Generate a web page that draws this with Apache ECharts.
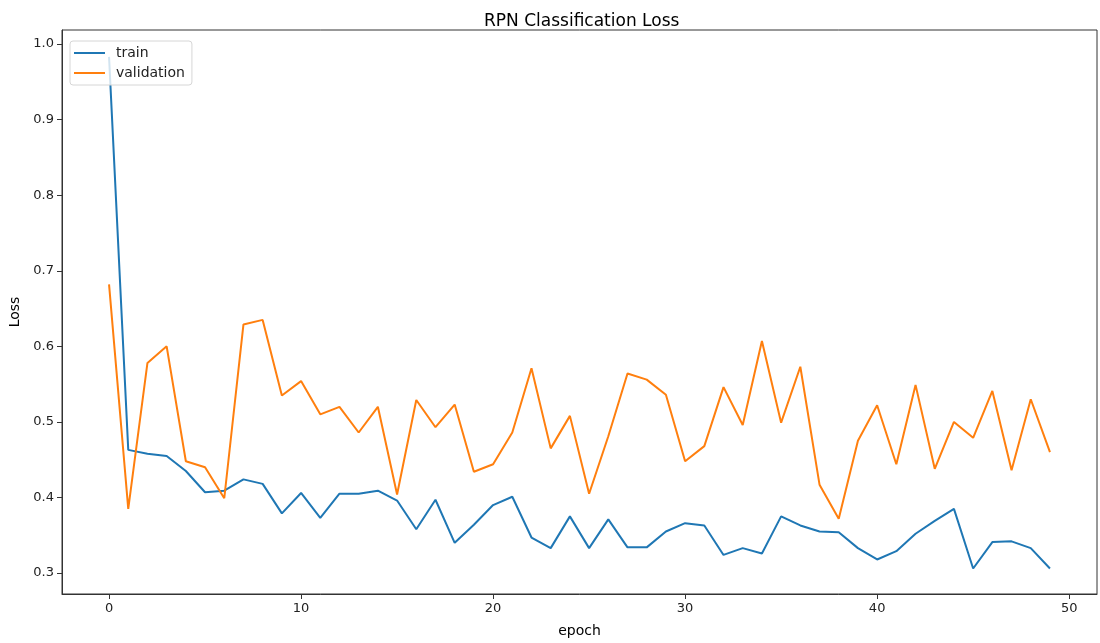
<!DOCTYPE html>
<html>
<head>
<meta charset="utf-8">
<script src="https://cdn.jsdelivr.net/npm/echarts@6/dist/echarts.min.js"></script>
<style>html,body{margin:0;padding:0;background:#fff}#c{width:1100px;height:643px}</style>
</head>
<body>
<div id="c"></div>
<script>
const epochs = Array.from({length: 50}, (_, i) => i);
const train = [0.983,0.463,0.458,0.455,0.435,0.407,0.409,0.424,0.418,0.379,
               0.406,0.373,0.405,0.405,0.409,0.396,0.358,0.397,0.340,0.364,
               0.390,0.401,0.347,0.333,0.375,0.333,0.371,0.334,0.334,0.355,
               0.366,0.363,0.324,0.333,0.326,0.375,0.363,0.355,0.354,0.333,
               0.318,0.329,0.352,0.369,0.385,0.306,0.341,0.342,0.333,0.306];
const validation = [0.682,0.385,0.578,0.600,0.448,0.440,0.399,0.629,0.635,0.535,
                    0.554,0.510,0.520,0.486,0.520,0.404,0.529,0.493,0.523,0.434,
                    0.444,0.486,0.571,0.465,0.508,0.405,0.481,0.564,0.556,0.536,
                    0.448,0.468,0.546,0.496,0.607,0.499,0.573,0.417,0.372,0.475,
                    0.522,0.444,0.549,0.438,0.500,0.479,0.541,0.436,0.530,0.460];
const xTicks = [0,10,20,30,40,50];
const yTicks = [0.3,0.4,0.5,0.6,0.7,0.8,0.9,1.0];

const chart = echarts.init(document.getElementById('c'));
const font = 'DejaVu Sans';
chart.setOption({
  animation: false,
  backgroundColor: '#fff',
  title: {
    text: 'RPN Classification Loss',
    left: 479, top: 8,
    textStyle: {fontFamily: font, fontSize: 17, fontWeight: 'normal', color: '#000'}
  },
  legend: {
    orient: 'vertical', left: 70, top: 41,
    data: ['train', 'validation'],
    itemWidth: 31, itemHeight: 2, itemGap: 6,
    padding: [5, 7, 5, 3],
    borderColor: '#d6d6d6', borderWidth: 1, borderRadius: 3,
    backgroundColor: 'rgba(255,255,255,0.8)',
    textStyle: {fontFamily: font, fontSize: 14, color: '#222', padding: [0, 0, 0, 6]}
  },
  grid: {
    left: 62, right: 3, top: 30, bottom: 47,
    show: true, borderColor: '#333', borderWidth: 1, backgroundColor: '#fff'
  },
  xAxis: {
    type: 'value', min: -2.45, max: 51.45,
    name: 'epoch', nameLocation: 'middle', nameGap: 30,
    nameTextStyle: {fontFamily: font, fontSize: 14, color: '#000'},
    axisLine: {show: true, onZero: false, lineStyle: {color: '#333', width: 1}},
    axisTick: {show: true, length: 5, inside: false, customValues: xTicks, lineStyle: {color: '#333', width: 1}},
    axisLabel: {customValues: xTicks, fontFamily: font, fontSize: 13, color: '#222', margin: 8},
    splitLine: {show: false}
  },
  yAxis: {
    type: 'value', min: 0.2723, max: 1.0186,
    name: 'Loss', nameLocation: 'middle', nameGap: 40, nameRotate: 90,
    nameTextStyle: {fontFamily: font, fontSize: 14, color: '#000'},
    axisLine: {show: true, onZero: false, lineStyle: {color: '#333', width: 1}},
    axisTick: {show: true, length: 5, inside: false, customValues: yTicks, lineStyle: {color: '#333', width: 1}},
    axisLabel: {customValues: yTicks, fontFamily: font, fontSize: 13, color: '#222', margin: 8,
      formatter: v => v.toFixed(1)},
    splitLine: {show: false}
  },
  series: [
    {name: 'train', type: 'line', symbol: 'none', data: epochs.map((e, i) => [e, train[i]]),
     lineStyle: {color: '#1f77b4', width: 2}, itemStyle: {color: '#1f77b4'}},
    {name: 'validation', type: 'line', symbol: 'none', data: epochs.map((e, i) => [e, validation[i]]),
     lineStyle: {color: '#ff7f0e', width: 2}, itemStyle: {color: '#ff7f0e'}}
  ]
});
</script>
</body>
</html>
